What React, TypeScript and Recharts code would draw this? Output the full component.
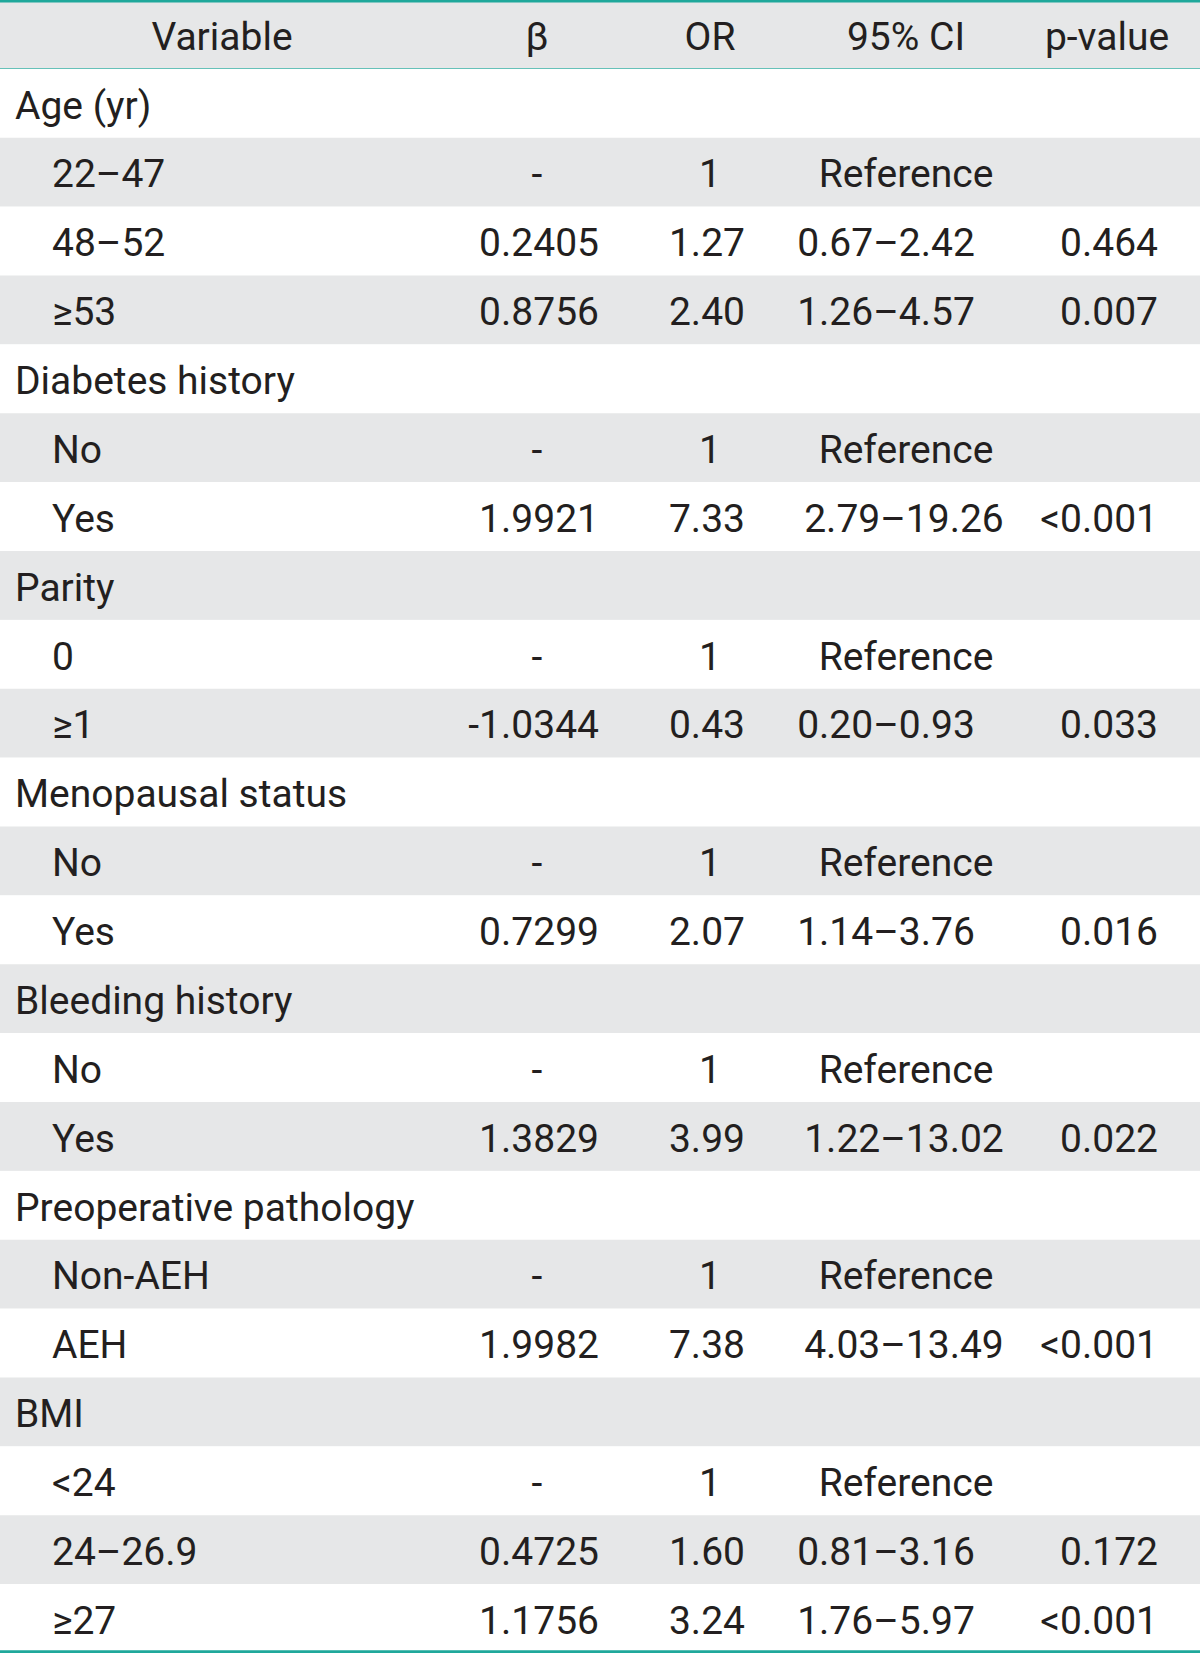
import { ComposedChart, Bar, XAxis, YAxis } from "recharts";

// header + one entry per table row (group headings have blanks elsewhere)
const headers = ["Variable", "β", "OR", "95% CI", "p-value"];

const variables = [
  "Age (yr)", "22–47", "48–52", "≥53",
  "Diabetes history", "No", "Yes",
  "Parity", "0", "≥1",
  "Menopausal status", "No", "Yes",
  "Bleeding history", "No", "Yes",
  "Preoperative pathology", "Non-AEH", "AEH",
  "BMI", "<24", "24–26.9", "≥27",
];

const groupLabels = [
  "Age (yr)", "Diabetes history", "Parity", "Menopausal status",
  "Bleeding history", "Preoperative pathology", "BMI",
];

const betas = [
  "", "-", "0.2405", "0.8756",
  "", "-", "1.9921",
  "", "-", "-1.0344",
  "", "-", "0.7299",
  "", "-", "1.3829",
  "", "-", "1.9982",
  "", "-", "0.4725", "1.1756",
];

const oddsRatios = [
  "", "1", "1.27", "2.40",
  "", "1", "7.33",
  "", "1", "0.43",
  "", "1", "2.07",
  "", "1", "3.99",
  "", "1", "7.38",
  "", "1", "1.60", "3.24",
];

const confIntervals = [
  "", "Reference", "0.67–2.42", "1.26–4.57",
  "", "Reference", "2.79–19.26",
  "", "Reference", "0.20–0.93",
  "", "Reference", "1.14–3.76",
  "", "Reference", "1.22–13.02",
  "", "Reference", "4.03–13.49",
  "", "Reference", "0.81–3.16", "1.76–5.97",
];

const pValues = [
  "", "", "0.464", "0.007",
  "", "", "<0.001",
  "", "", "0.033",
  "", "", "0.016",
  "", "", "0.022",
  "", "", "<0.001",
  "", "", "0.172", "<0.001",
];

const TEAL = "#1fa89b";
const GRAY = "#e6e7e8";
const INK = "#231f20";
const FONT = "Roboto, 'Noto Sans', sans-serif";

const rows = [
  {
    key: "header",
    header: true,
    variable: headers[0],
    beta: headers[1],
    or: headers[2],
    ci: headers[3],
    p: headers[4],
    band: 1,
  },
  ...variables.map((v, i) => ({
    key: `row-${i}`,
    header: false,
    variable: v,
    beta: betas[i],
    or: oddsRatios[i],
    ci: confIntervals[i],
    p: pValues[i],
    band: 1,
  })),
];

type Anchor = "start" | "middle" | "end";

function place(col: string, row: any): { x: number; anchor: Anchor } {
  const v: string = row[col];
  if (col === "variable") {
    if (row.header) return { x: 222, anchor: "middle" };
    return groupLabels.includes(v) ? { x: 15, anchor: "start" } : { x: 52, anchor: "start" };
  }
  if (col === "beta") {
    if (row.header || v === "-") return { x: 537, anchor: "middle" };
    return { x: 599, anchor: "end" };
  }
  if (col === "or") {
    if (row.header || v === "1") return { x: 710, anchor: "middle" };
    return { x: 745, anchor: "end" };
  }
  if (col === "ci") {
    if (row.header || v === "Reference") return { x: 906, anchor: "middle" };
    // two-digit upper bounds sit a little further right
    return { x: v.length > 9 ? 904 : 886, anchor: "middle" };
  }
  if (row.header) return { x: 1107, anchor: "middle" };
  return { x: 1158, anchor: "end" };
}

const columns = ["variable", "beta", "or", "ci", "p"];

function RowShape(props: any) {
  const { x, y, width, height, index, payload } = props;
  const last = index === rows.length - 1;
  return (
    <g>
      <rect x={x} y={y} width={width} height={height} fill={index % 2 === 0 ? GRAY : "#ffffff"} />
      {index === 0 && (
        <>
          <line x1={x} x2={x + width} y1={y + 1.25} y2={y + 1.25} stroke={TEAL} strokeWidth={2.5} />
          <line x1={x} x2={x + width} y1={y + height + 0.5} y2={y + height + 0.5} stroke={TEAL} strokeWidth={2.5} />
        </>
      )}
      {last && (
        <line x1={x} x2={x + width} y1={y + height - 1.5} y2={y + height - 1.5} stroke={TEAL} strokeWidth={3} />
      )}
      {columns.map((col) => {
        const text = payload[col];
        if (!text) return null;
        const pos = place(col, payload);
        return (
          <text
            key={col}
            x={pos.x}
            y={y + height * 0.72}
            textAnchor={pos.anchor}
            fontFamily={FONT}
            fontSize={39}
            fill={INK}
          >
            {text}
          </text>
        );
      })}
    </g>
  );
}

export default function App() {
  return (
    <div style={{ position: "absolute", left: 0, top: 0, background: "#fff" }}>
      <ComposedChart
        width={1200}
        height={1653}
        data={rows}
        layout="vertical"
        margin={{ top: 0, right: 0, bottom: 0, left: 0 }}
        barCategoryGap={0}
        barGap={0}
      >
        <XAxis type="number" domain={[0, 1]} hide />
        <YAxis type="category" dataKey="key" hide width={0} />
        <Bar dataKey="band" isAnimationActive={false} shape={<RowShape />} />
      </ComposedChart>
    </div>
  );
}
